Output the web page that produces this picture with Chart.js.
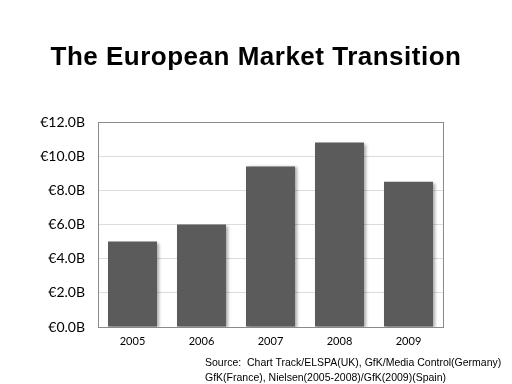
<!DOCTYPE html>
<html>
<head>
<meta charset="utf-8">
<script src="https://cdn.jsdelivr.net/npm/chart.js@4"></script>
<style>
  body { margin: 0; background: #fff; }
  #wrap { position: relative; width: 512px; height: 384px; }
  #title { position: absolute; left: 0; width: 512px; top: 41px; text-align: center;
           font: bold 26px "Liberation Sans", Arial, sans-serif; letter-spacing: 0.5px; color: #000; }
  #source { position: absolute; left: 205px; top: 355px; font: 10.5px "Liberation Sans", Arial, sans-serif;
            line-height: 15px; color: #000; white-space: nowrap; }
</style>
</head>
<body>
<div id="wrap">
  <canvas id="chart" width="512" height="384"></canvas>
  <div id="title">The European Market Transition</div>
  <div id="source">Source:&nbsp; Chart Track/ELSPA(UK), GfK/Media Control(Germany)<br>GfK(France), Nielsen(2005-2008)/GfK(2009)(Spain)</div>
</div>
<script>
const years = ['2005', '2006', '2007', '2008', '2009'];
const marketSize = [5.0, 6.0, 9.4, 10.8, 8.5]; // billions of euro
const yTicks = [0, 2, 4, 6, 8, 10, 12];

// frame round the plot area
const frame = {
    id: 'frame',
    afterDraw(chart) {
        const a = chart.chartArea, ctx = chart.ctx;
        ctx.save();
        ctx.strokeStyle = '#8a8a8a';
        ctx.lineWidth = 1;
        ctx.strokeRect(a.left + 0.5, a.top + 0.5, a.right - a.left, a.bottom - a.top);
        ctx.restore();
    }
};

// drop shadow under the bars
const shadow = {
    id: 'shadow',
    beforeDatasetsDraw(chart) {
        const ctx = chart.ctx;
        ctx.save();
        ctx.shadowColor = 'rgba(0,0,0,0.35)';
        ctx.shadowOffsetX = 2;
        ctx.shadowOffsetY = 1;
        ctx.shadowBlur = 3;
    },
    afterDatasetsDraw(chart) {
        chart.ctx.restore();
    }
};

new Chart(document.getElementById('chart'), {
    type: 'bar',
    data: {
        labels: years,
        datasets: [{
            data: marketSize,
            backgroundColor: '#5b5b5b',
            borderWidth: 0,
            barPercentage: 0.71,
            categoryPercentage: 1
        }]
    },
    options: {
        responsive: false,
        animation: false,
        layout: { padding: { top: 122, right: 69, left: 0, bottom: 0 } },
        plugins: { legend: { display: false }, tooltip: { enabled: false } },
        scales: {
            x: {
                grid: { display: false },
                border: { display: false },
                ticks: { color: '#000', font: { family: 'Lato', size: 11 }, padding: 0 },
                afterFit: s => { s.height = 57; }
            },
            y: {
                min: 0,
                max: 12,
                afterBuildTicks: s => { s.ticks = yTicks.map(v => ({ value: v })); },
                grid: { color: '#dcdcdc', drawTicks: false },
                border: { display: false },
                ticks: {
                    color: '#000',
                    font: { family: 'Lato', size: 14 },
                    padding: 13,
                    callback: v => '€' + v.toFixed(1) + 'B'
                },
                afterFit: s => { s.width = 98; }
            }
        }
    },
    plugins: [shadow, frame]
});
</script>
</body>
</html>
